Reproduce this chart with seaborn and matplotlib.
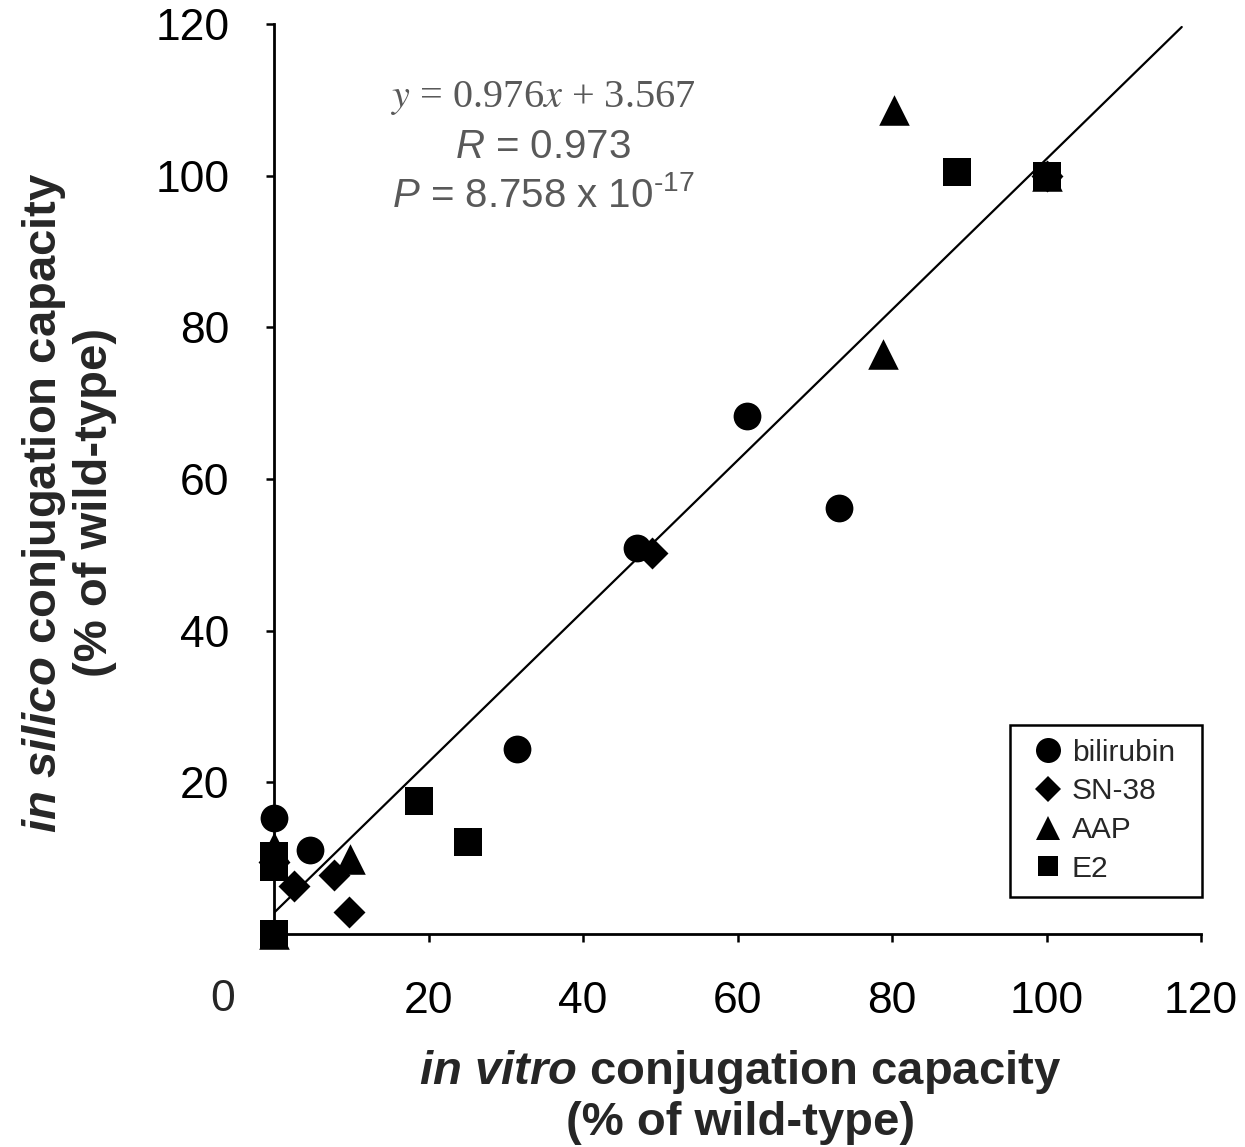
import matplotlib
matplotlib.use('Agg')
import matplotlib.pyplot as plt
import matplotlib.transforms as mtransforms
from matplotlib.lines import Line2D
import seaborn as sns

sns.set_style('ticks')
plt.rcParams['font.family'] = ['Liberation Sans', 'DejaVu Sans']
plt.rcParams['mathtext.fontset'] = 'custom'
plt.rcParams['mathtext.rm'] = 'Liberation Sans'
plt.rcParams['mathtext.it'] = 'Liberation Sans:italic'
plt.rcParams['mathtext.bf'] = 'Liberation Sans:bold'
plt.rcParams['mathtext.bfit'] = 'Liberation Sans:italic:bold'

# valores (% do wild-type)
bilirubin_x = [0, 4.7, 31.4, 47.0, 61.2, 73.1, 100]
bilirubin_y = [15.3, 11.1, 24.4, 50.9, 68.3, 56.2, 100]
sn38_x = [0, 2.6, 7.8, 9.7, 48.9, 100]
sn38_y = [9.5, 6.3, 7.8, 2.9, 50.3, 100]
aap_x = [0, 0, 9.8, 78.8, 80.3, 100]
aap_y = [0, 11.5, 9.9, 76.5, 108.7, 100]
e2_x = [0, 0, 0, 18.8, 25.1, 88.4, 100]
e2_y = [0, 8.8, 10.3, 17.5, 12.1, 100.5, 100]

# reta de tendencia (extremos)
trend_x = [0, 117.5]
trend_y = [2.8, 119.6]

series = [
    ('bilirubin', bilirubin_x, bilirubin_y, 'o', 400, 18),
    ('SN-38', sn38_x, sn38_y, 'D', 265, 13.5),
    ('AAP', aap_x, aap_y, '^', 484, 17),
    ('E2', e2_x, e2_y, 's', 400, 14.5),
]

ticks = [0, 20, 40, 60, 80, 100, 120]
tick_labels = [''] + [str(t) for t in ticks[1:]]

fig = plt.figure(figsize=(12.45, 11.47), dpi=100)
ax = fig.add_axes([0.2201, 0.1857, 0.7446, 0.7934])

sns.lineplot(x=trend_x, y=trend_y, color='black', linewidth=1.6, ax=ax, zorder=2)

handles = []
for i, (nome, xs, ys, marca, tam, tam_leg) in enumerate(series):
    sns.scatterplot(x=xs, y=ys, marker=marca, s=tam, color='black', linewidth=0,
                    ax=ax, clip_on=False, zorder=3 + i)
    handles.append(Line2D([], [], linestyle='none', marker=marca, markersize=tam_leg,
                          markerfacecolor='black', markeredgewidth=0, label=nome))

ax.set_xlim(0, 120)
ax.set_ylim(0, 120)
ax.set_xticks(ticks)
ax.set_xticklabels(tick_labels)
ax.set_yticks(ticks)
ax.set_yticklabels(tick_labels)
ax.tick_params(direction='out', length=6, width=1.8, labelsize=32, colors='black')
ax.tick_params(axis='x', pad=28)
ax.tick_params(axis='y', pad=26)
sns.despine(ax=ax)
for lado in ['left', 'bottom']:
    ax.spines[lado].set_linewidth(2)
    ax.spines[lado].set_color('black')

# "0" da origem, deslocado como no original
trans = mtransforms.blended_transform_factory(ax.transData, ax.transAxes)
ax.text(-6.6, -0.0725, '0', transform=trans, ha='center', va='center', fontsize=32)

ax.set_xlabel('$\\mathbfit{in\\ vitro}$ conjugation capacity\n(% of wild-type)',
              fontsize=34, fontweight='bold', linespacing=1.15)
ax.xaxis.set_label_coords(0.503, -0.125)
ax.set_ylabel('$\\mathbfit{in\\ silico}$ conjugation capacity\n(% of wild-type)',
              fontsize=34, fontweight='bold', linespacing=1.15)
ax.yaxis.set_label_coords(-0.169, 0.474)

cinza = '#595959'
ax.text(0.290, 0.9088, '$y$ = 0.976$x$ + 3.567', transform=ax.transAxes, ha='center',
        va='baseline', fontsize=29, color=cinza, family='Liberation Serif',
        math_fontfamily='stix')
ax.text(0.290, 0.8527, '$R$ = 0.973', transform=ax.transAxes, ha='center',
        va='baseline', fontsize=29, color=cinza)
ax.text(0.290, 0.7989, '$P$ = 8.758 x 10$^{\\text{-17}}$', transform=ax.transAxes,
        ha='center', va='baseline', fontsize=29, color=cinza)

leg = ax.legend(handles=handles, loc='lower left', bbox_to_anchor=(0.794, 0.0407, 0.207, 0.19),
                mode='expand', fontsize=21.5, frameon=True, fancybox=False, borderpad=0.47,
                labelspacing=0.36, handlelength=1.6, handletextpad=0.0, borderaxespad=0)
leg.get_frame().set_edgecolor('black')
leg.get_frame().set_linewidth(1.8)
leg.get_frame().set_facecolor('white')
leg.get_frame().set_alpha(1)

fig.savefig('out.png', dpi=100)
